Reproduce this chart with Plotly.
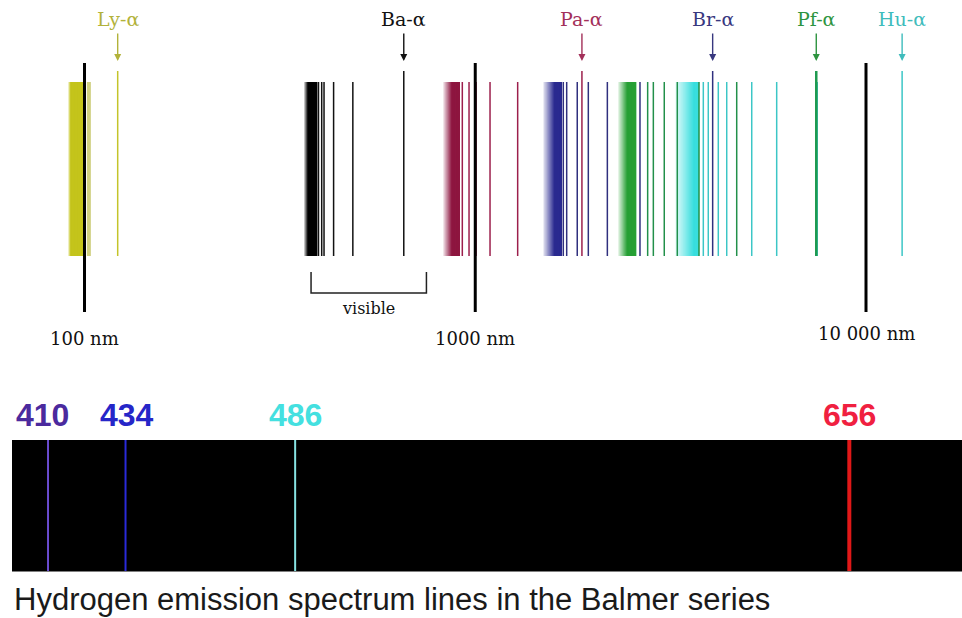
import math
import numpy as np
import plotly.graph_objects as go

# ---------------- data (wavelengths in nm) ----------------
series_names = ["Lyman", "Balmer", "Paschen", "Brackett", "Pfund", "Humphreys"]
alpha_labels = ["Ly-α", "Ba-α", "Pa-α", "Br-α", "Pf-α", "Hu-α"]
alpha_nm = [121.6, 656.3, 1875.1, 4051.2, 7459.9, 12372.0]
band_start_nm = [90.8, 364.6, 828.5, 1494.0, 2323.0, 3253.0]
band_end_nm = [100.0, 393.6, 914.0, 1664.0, 2579.0, 3722.0]
lyman_nm = [102.6]
balmer_nm = [397.0, 404.6, 410.2, 434.0, 486.1]
paschen_nm = [926.6, 964.0, 1005.0, 1091.0, 1284.0]
brackett_nm = [1680.0, 1714.0, 1824.0, 1947.0, 2178.0, 2640.0]
pfund_nm = [2762.0, 2856.0, 3046.0, 3289.0, 3738.0, 4668.0]
humphreys_nm = [3834.0, 3948.0, 4188.0, 4401.0, 5100.0, 5908.0, 7503.0]
scale_marks_nm = [100, 1000, 10000]
scale_labels = ["100 nm", "1000 nm", "10 000 nm"]
visible_nm = [380, 750]

balmer_vis_nm = [410.2, 434.0, 486.1, 656.3]
balmer_vis_labels = ["410", "434", "486", "656"]
caption = "Hydrogen emission spectrum lines in the Balmer series"

# ---------------- styles ----------------
series_lines = [lyman_nm, balmer_nm, paschen_nm, brackett_nm, pfund_nm, humphreys_nm]
line_colors = ["#d0d080", "#111111", "#9c1f4c", "#30307e", "#22904a", "#3cc6c6"]
alpha_colors = ["#c4c42a", "#111111", "#9c1f4c", "#30307e", "#1f9a50", "#3cc6c6"]
band_colors = ["#c4c41c", "#000000", "#8e1640", "#2a2a90", "#27a035", "#38dede"]
label_colors = ["#b2b23a", "#111111", "#a3305a", "#38387f", "#2e9440", "#3fbcbc"]
band_fade = [0.15, 0.3, 0.5, 0.6, 0.5, 0.8]
line_widths = [4, 1.5, 1.5, 1.5, 1.5, 1.5]
alpha_widths = [1.5, 1.5, 1.5, 1.5, 2.5, 1.5]
vis_line_colors = ["#6a4cd0", "#2a2ad8", "#86e2e2", "#e01818"]
vis_line_widths = [2, 2, 2, 4]
vis_label_colors = ["#4b2a9e", "#2626c8", "#44e0e0", "#f02040"]
vis_label_shift = [-6, 1, 0, 0]

LINE_TOP, LINE_ALPHA_TOP, LINE_BOT = 82, 71, 256
MARK_TOP, MARK_BOT = 63, 312


def hex2rgb(h):
    h = h.lstrip("#")
    return [int(h[i:i + 2], 16) for i in (0, 2, 4)]


def blend(h, a):
    r, g, b = hex2rgb(h)
    return "rgb(%d,%d,%d)" % tuple(round(255 * (1 - a) + c * a) for c in (r, g, b))


fig = go.Figure()

# gradient bands (series convergence): stacked slices, each reaching the band end
for s0, s1, col, fade in zip(band_start_nm, band_end_nm, band_colors, band_fade):
    n = 30
    edges = np.logspace(math.log10(s0), math.log10(s1), n + 1)
    for i in range(n):
        f = (i + 0.5) / n
        a = min(1.0, 0.12 + 0.88 * f / fade)
        x0, x1 = edges[i], s1
        fig.add_trace(go.Scatter(
            x=[x0, x1, x1, x0, x0], y=[LINE_TOP, LINE_TOP, LINE_BOT, LINE_BOT, LINE_TOP],
            mode="lines", fill="toself", fillcolor=blend(col, a),
            line=dict(width=0), hoverinfo="skip", xaxis="x", yaxis="y"))

# individual series lines
for lines, col, w in zip(series_lines, line_colors, line_widths):
    xs, ys = [], []
    for lam in lines:
        xs += [lam, lam, None]
        ys += [LINE_TOP, LINE_BOT, None]
    fig.add_trace(go.Scatter(x=xs, y=ys, mode="lines", line=dict(color=col, width=w),
                             hoverinfo="skip", xaxis="x", yaxis="y"))

# alpha lines (taller)
for lam, col, w in zip(alpha_nm, alpha_colors, alpha_widths):
    fig.add_trace(go.Scatter(x=[lam, lam], y=[LINE_ALPHA_TOP, LINE_BOT], mode="lines",
                             line=dict(color=col, width=w), hoverinfo="skip",
                             xaxis="x", yaxis="y"))

# scale markers
xs, ys = [], []
for lam in scale_marks_nm:
    xs += [lam, lam, None]
    ys += [MARK_TOP, MARK_BOT, None]
fig.add_trace(go.Scatter(x=xs, y=ys, mode="lines", line=dict(color="#000000", width=3),
                         hoverinfo="skip", xaxis="x", yaxis="y"))

# visible bracket
fig.add_trace(go.Scatter(x=[visible_nm[0], visible_nm[0], visible_nm[1], visible_nm[1]],
                         y=[272, 293, 293, 272], mode="lines",
                         line=dict(color="#222222", width=1.5), hoverinfo="skip",
                         xaxis="x", yaxis="y"))

# bottom Balmer lines
for lam, col, w in zip(balmer_vis_nm, vis_line_colors, vis_line_widths):
    fig.add_trace(go.Scatter(x=[lam, lam], y=[440, 571], mode="lines",
                             line=dict(color=col, width=w), hoverinfo="skip",
                             xaxis="x2", yaxis="y"))

ann = []
serif = "DejaVu Serif, Liberation Serif, serif"
for lab, lam, col in zip(alpha_labels, alpha_nm, label_colors):
    ann.append(dict(x=math.log10(lam), y=19, xref="x", yref="y", text=lab,
                    showarrow=False, font=dict(family=serif, size=19, color=col)))
    ann.append(dict(x=math.log10(lam), y=61, xref="x", yref="y", text="",
                    showarrow=True, ax=0, ay=-29, arrowhead=2, arrowsize=1,
                    arrowwidth=1.4, arrowcolor=col, standoff=0, startstandoff=0))
for lab, lam, yy in zip(scale_labels, scale_marks_nm, [338, 338, 333]):
    ann.append(dict(x=math.log10(lam), y=yy, xref="x", yref="y", text=lab,
                    showarrow=False, font=dict(family=serif, size=18, color="#111111")))
ann.append(dict(x=math.log10(math.sqrt(visible_nm[0] * visible_nm[1])), y=308,
                xref="x", yref="y", text="visible", showarrow=False,
                font=dict(family=serif, size=16, color="#111111")))
for lab, lam, col, sh in zip(balmer_vis_labels, balmer_vis_nm, vis_label_colors, vis_label_shift):
    ann.append(dict(x=lam, y=415, xref="x2", yref="y", text="<b>%s</b>" % lab,
                    showarrow=False, xshift=sh,
                    font=dict(family="Liberation Sans, Arial, sans-serif", size=32, color=col)))
ann.append(dict(x=12 / 962, y=599, xref="paper", yref="y", text=caption,
                xanchor="left", showarrow=False,
                font=dict(family="Liberation Sans, Arial, sans-serif", size=31, color="#1a1a1a")))

fig.update_layout(
    width=962, height=618,
    margin=dict(l=0, r=0, t=0, b=0),
    paper_bgcolor="white", plot_bgcolor="white",
    showlegend=False,
    xaxis=dict(type="log", range=[1.78375, 4.24568], domain=[0, 1], visible=False,
               fixedrange=True),
    xaxis2=dict(range=[395.45, 690.91], overlaying="x", domain=[0, 1], visible=False,
                fixedrange=True),
    yaxis=dict(range=[618, 0], domain=[0, 1], visible=False, fixedrange=True),
    shapes=[dict(type="rect", xref="paper", yref="y", x0=12 / 962, x1=1, y0=440, y1=571.5,
                 fillcolor="#000000", line=dict(width=0), layer="below")],
    annotations=ann,
)

fig.write_html("out.html")
